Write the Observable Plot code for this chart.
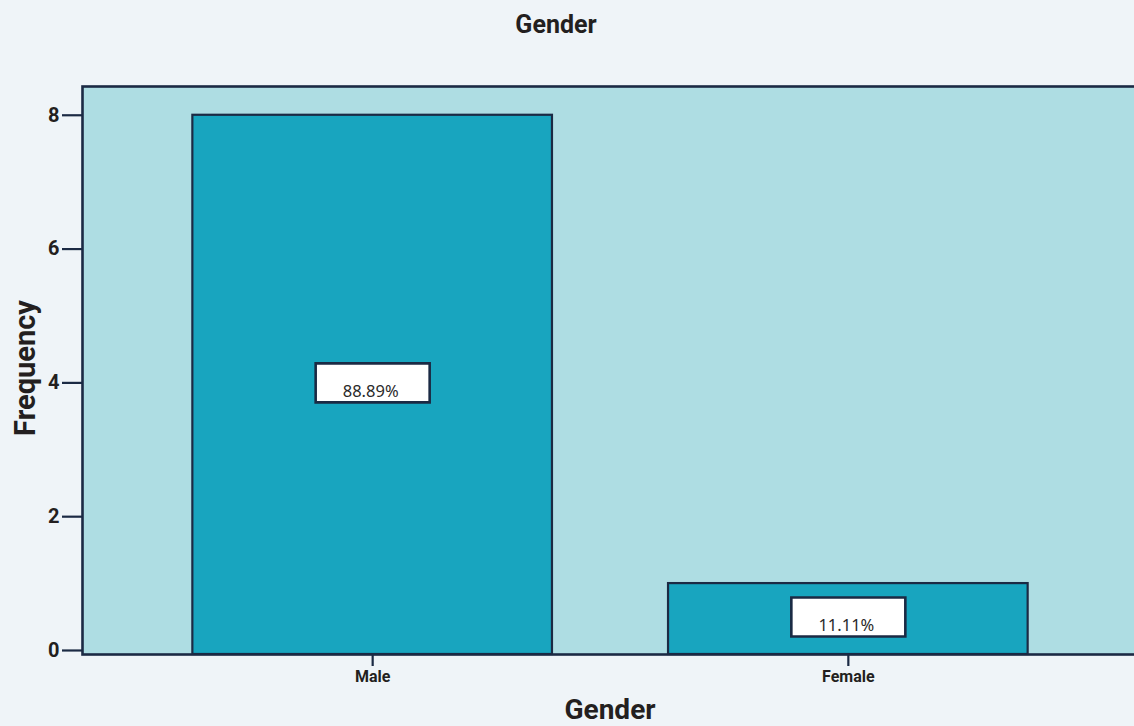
<!DOCTYPE html>
<html>
<head>
<meta charset="utf-8">
<script src="https://cdn.jsdelivr.net/npm/d3@7"></script>
<script src="https://cdn.jsdelivr.net/npm/@observablehq/plot@0.6"></script>
<style>
html, body { margin: 0; padding: 0; overflow: hidden; background: #eff4f8; }
#chart { width: 1134px; height: 726px; overflow: hidden; position: relative; }
#chart svg { display: block; max-width: none !important; height: 726px !important; }
</style>
</head>
<body>
<div id="chart"></div>
<script>
// ---- data ----
const categories = ["Male", "Female"];
const frequencies = [8, 1];
const percentLabels = ["88.89%", "11.11%"];
const yTicks = [0, 2, 4, 6, 8];
const chartTitle = "Gender";
const xTitle = "Gender";
const yTitle = "Frequency";

// ---- style ----
const navy = "#1b2a44";
const ink = "#231f20";
const plotBg = "#aedde3";
const barFill = "#18a5bf";
const yMin = -0.06, yMax = 8.43;

const data = categories.map((c, i) => ({gender: c, freq: frequencies[i], pct: percentLabels[i]}));

const boxSymbol = {
  draw(ctx) {
    ctx.moveTo(-57, -19.5); ctx.lineTo(57, -19.5); ctx.lineTo(57, 19.5); ctx.lineTo(-57, 19.5); ctx.closePath();
  }
};

const W = 1138, H = 726;
const plot = Plot.plot({
  width: W, height: H,
  marginLeft: 82, marginRight: 0, marginTop: 86, marginBottom: 72,
  style: {background: "transparent", fontFamily: "Roboto, sans-serif", color: ink, overflow: "visible", maxWidth: "none"},
  x: {domain: categories, paddingInner: 0.244, paddingOuter: 0.232, round: false, label: null},
  y: {domain: [yMin, yMax], label: null},
  marks: [
    Plot.frame({fill: plotBg, stroke: null}),
    Plot.rectY(data, {x: "gender", y1: yMin, y2: "freq", fill: barFill, stroke: navy, strokeWidth: 2.2}),
    Plot.dot(data, {x: "gender", y: d => d.freq / 2, symbol: boxSymbol, r: 5, fill: "white", stroke: navy, strokeWidth: 2.6}),
    Plot.text(data, {x: "gender", y: d => d.freq / 2, text: "pct", dx: -2, dy: 9, fontSize: 16.5, fontFamily: "'Noto Sans', 'DejaVu Sans', sans-serif", fill: "#2a2a2a"}),
    Plot.axisY({ticks: yTicks, tickSize: 20, tickPadding: 3, fontSize: 20, fontWeight: "bold", stroke: navy, strokeWidth: 2.2, label: null, fill: ink}),
    Plot.axisX({tickSize: 12, tickPadding: 4, fontSize: 16, fontWeight: "bold", stroke: navy, strokeWidth: 2.2, label: null, fill: ink}),
    Plot.frame({stroke: navy, strokeWidth: 2.6})
  ]
});

const svg = d3.select(plot);
svg.append("text")
  .attr("x", 556).attr("y", 33)
  .attr("text-anchor", "middle")
  .attr("font-family", "Roboto, sans-serif").attr("font-weight", "bold").attr("font-size", 25)
  .attr("fill", ink).text(chartTitle);
svg.append("text")
  .attr("x", 610).attr("y", 719)
  .attr("text-anchor", "middle")
  .attr("font-family", "Roboto, sans-serif").attr("font-weight", "bold").attr("font-size", 28)
  .attr("fill", ink).text(xTitle);
svg.append("text")
  .attr("transform", "translate(35,368) rotate(-90)")
  .attr("text-anchor", "middle")
  .attr("font-family", "Roboto, sans-serif").attr("font-weight", "bold").attr("font-size", 29)
  .attr("fill", ink).text(yTitle);

document.getElementById("chart").appendChild(plot);
</script>
</body>
</html>
